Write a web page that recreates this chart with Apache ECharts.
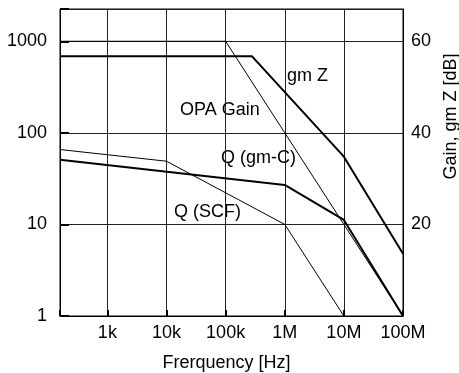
<!DOCTYPE html>
<html>
<head>
<meta charset="utf-8">
<script src="https://cdn.jsdelivr.net/npm/echarts@6/dist/echarts.min.js"></script>
<style>
  html, body { margin: 0; padding: 0; background: #fff; }
  #chart { width: 459px; height: 373px; }
</style>
</head>
<body>
<div id="chart"></div>
<script>
// frequency axis ticks (Hz) and labels
const freqTicks = [1e3, 1e4, 1e5, 1e6, 1e7, 1e8]
const freqLabels = ['1k', '10k', '100k', '1M', '10M', '100M']
const freqMin = 158
const freqMax = 1e8

// left axis (Q, log) and right axis (dB) ranges
const qMin = 1
const qMax = 2250
const dbMax = 20 * Math.log10(qMax)

// gain curves [Hz, dB]
const gmZ = [[158, 56.7], [2.8e5, 56.7], [1e7, 34.8], [1e8, 13.6]]
const opaGain = [[158, 60], [1e5, 60], [1e6, 40], [1e7, 20], [1e8, 0]]

// Q curves [Hz, Q]
const qGmC = [[158, 50.7], [1e6, 27], [1e7, 11.2], [1e8, 1]]
const qScf = [[158, 65.7], [1e4, 49], [1e6, 10], [1e7, 1]]

const font = "'Liberation Sans', Arial, sans-serif"
const fs = 18

const chart = echarts.init(document.getElementById('chart'))

function isDecade(v) {
  const l = Math.log10(v)
  return Math.abs(l - Math.round(l)) < 1e-6
}

const option = {
  animation: false,
  grid: {
    left: 60, right: 56, top: 9, bottom: 57,
    containLabel: false,
    outerBoundsMode: 'none',
    show: true, borderColor: '#000', borderWidth: 1
  },
  xAxis: {
    type: 'log',
    min: freqMin,
    max: freqMax,
    name: 'Frerquency [Hz]',
    nameLocation: 'middle',
    nameGap: 38,
    nameTextStyle: { fontFamily: font, fontSize: fs, color: '#000', padding: [0, 10, 0, 0] },
    axisLine: { lineStyle: { color: '#000', width: 1 } },
    axisTick: { inside: true, length: 6, lineStyle: { color: '#000', width: 2 } },
    axisLabel: {
      margin: 8,
      fontFamily: font, fontSize: fs, color: '#000',
      formatter: v => {
        if (!isDecade(v)) return ''
        const i = freqTicks.findIndex(t => Math.abs(Math.log10(t) - Math.log10(v)) < 1e-6)
        return i >= 0 ? freqLabels[i] : ''
      }
    },
    splitLine: { show: true, lineStyle: { color: '#222', width: 1 } }
  },
  yAxis: [
    {
      type: 'log',
      min: qMin,
      max: qMax,
      position: 'left',
      name: 'Q',
      nameLocation: 'middle',
      nameGap: 33,
      nameRotate: 90,
      nameTextStyle: { fontFamily: font, fontSize: fs, color: '#000', padding: [0, 60, 0, 0] },
      axisLine: { show: true, lineStyle: { color: '#000', width: 1 } },
      axisTick: { show: true, inside: true, length: 9, lineStyle: { color: '#000', width: 2 } },
      axisLabel: {
        margin: 13,
        fontFamily: font, fontSize: fs, color: '#000',
        formatter: v => isDecade(v) ? String(Math.round(v)) : ''
      },
      splitLine: { show: true, lineStyle: { color: '#222', width: 1 } }
    },
    {
      type: 'value',
      min: 0,
      max: dbMax,
      interval: 20,
      position: 'right',
      name: 'Gain, gm Z [dB]',
      nameLocation: 'middle',
      nameGap: 35,
      nameRotate: 90,
      nameTextStyle: { fontFamily: font, fontSize: fs, color: '#000', padding: [0, 0, 0, 92] },
      axisLine: { show: true, lineStyle: { color: '#000', width: 1 } },
      axisTick: { show: false },
      axisLabel: {
        margin: 8,
        showMinLabel: false,
        showMaxLabel: false,
        fontFamily: font, fontSize: fs, color: '#000'
      },
      splitLine: { show: false }
    }
  ],
  series: [
    {
      name: 'gm Z', type: 'line', yAxisIndex: 1, data: gmZ,
      showSymbol: false, lineStyle: { color: '#000', width: 2 }
    },
    {
      name: 'OPA Gain', type: 'line', yAxisIndex: 1, data: opaGain,
      showSymbol: false, lineStyle: { color: '#000', width: 1 }
    },
    {
      name: 'Q (gm-C)', type: 'line', yAxisIndex: 0, data: qGmC,
      showSymbol: false, lineStyle: { color: '#000', width: 2 }
    },
    {
      name: 'Q (SCF)', type: 'line', yAxisIndex: 0, data: qScf,
      showSymbol: false, lineStyle: { color: '#000', width: 1 }
    }
  ],
  graphic: [
    { type: 'text', left: 287, top: 67, style: { text: 'gm Z', font: fs + 'px ' + font, fill: '#000' } },
    { type: 'text', left: 180, top: 101, style: { text: 'OPA Gain', font: fs + 'px ' + font, fill: '#000' } },
    { type: 'text', left: 221, top: 149, style: { text: 'Q (gm-C)', font: fs + 'px ' + font, fill: '#000' } },
    { type: 'text', left: 174, top: 203, style: { text: 'Q (SCF)', font: fs + 'px ' + font, fill: '#000' } }
  ]
}

chart.setOption(option)
</script>
</body>
</html>
